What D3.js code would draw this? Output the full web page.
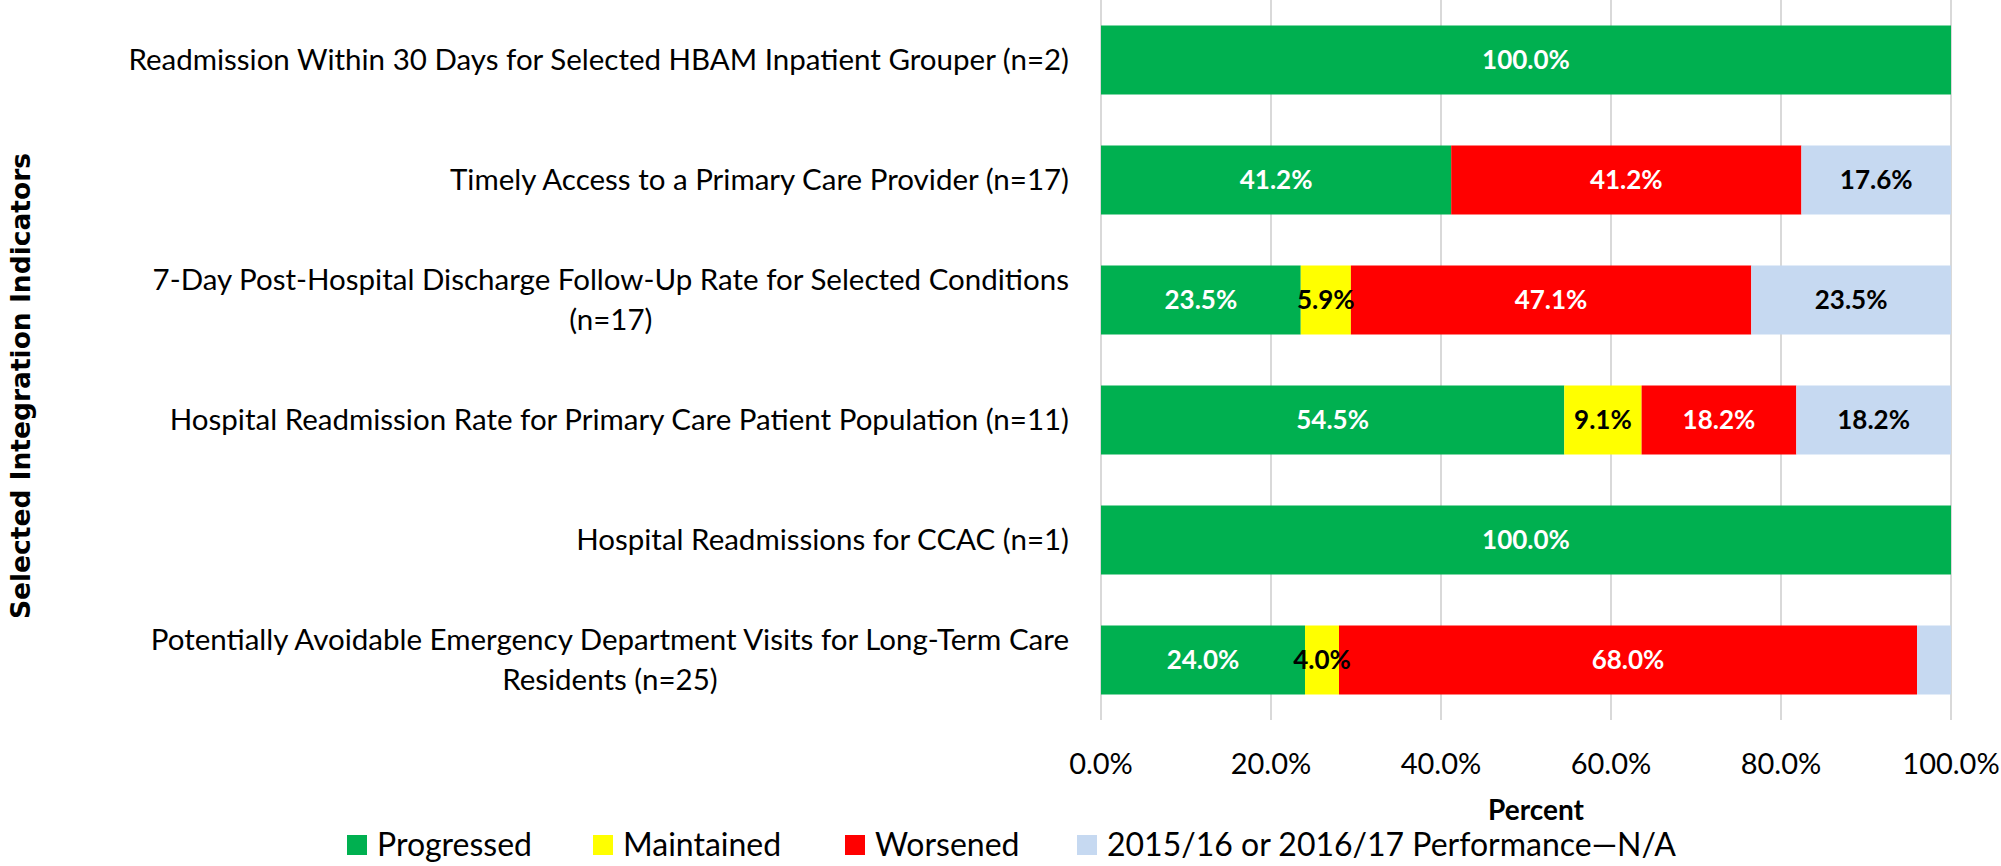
<!DOCTYPE html>
<html>
<head>
<meta charset="utf-8">
<script src="https://cdn.jsdelivr.net/npm/d3@7"></script>
<style>
  body { margin: 0; background: #fff; }
  text { font-family: Lato, "Liberation Sans Narrow", sans-serif; }
</style>
</head>
<body>
<div id="container"></div>
<script>
// dados do grafico
var categorias = [
    "Readmission Within 30 Days for Selected HBAM Inpatient Grouper (n=2)",
    "Timely Access to a Primary Care Provider (n=17)",
    "7-Day Post-Hospital Discharge Follow-Up Rate for Selected Conditions\n(n=17)",
    "Hospital Readmission Rate for Primary Care Patient Population (n=11)",
    "Hospital Readmissions for CCAC (n=1)",
    "Potentially Avoidable Emergency Department Visits for Long-Term Care\nResidents (n=25)"
];
var progredido = [100.0, 41.2, 23.5, 54.5, 100.0, 24.0];
var mantido    = [0, 0, 5.9, 9.1, 0, 4.0];
var piorado    = [0, 41.2, 47.1, 18.2, 0, 68.0];
var naoDisp    = [0, 17.6, 23.5, 18.2, 0, 4.0];
var series     = ["Progressed", "Maintained", "Worsened", "2015/16 or 2016/17 Performance\u2014N/A"];
var cores      = ["#00b050", "#ffff00", "#ff0000", "#c6d9f1"];
var coresTexto = ["#ffffff", "#000000", "#ffffff", "#000000"];
var ticksX     = [0, 20, 40, 60, 80, 100];
// rotulo escondido no original (linha, serie)
var rotulosOcultos = ["5-3"];

var w = 2001;
var h = 866;
var margem = {top: 0, left: 1101, right: 50, bottom: 146};

var svg = d3.select("div#container")
            .append("svg")
            .attr("width", w)
            .attr("height", h)
            .style("display", "block");

var linhas = categorias.map(function(c, i) {
    return {cat: c, s0: progredido[i], s1: mantido[i], s2: piorado[i], s3: naoDisp[i], idx: i};
});
var pilha = d3.stack().keys(["s0", "s1", "s2", "s3"])(linhas);

var x = d3.scaleLinear().domain([0, 100]).range([margem.left, w - margem.right]);
var y = d3.scaleBand().domain(d3.range(categorias.length))
          .range([margem.top, h - margem.bottom]).paddingInner(0.425).paddingOuter(0.2125);

// grade
svg.append("g").selectAll("line")
    .data(ticksX)
    .enter()
    .append("line")
    .attr("x1", function(d){ return x(d); })
    .attr("x2", function(d){ return x(d); })
    .attr("y1", margem.top)
    .attr("y2", h - margem.bottom)
    .attr("stroke", "#d9d9d9")
    .attr("stroke-width", 2);

// barras
var grupos = svg.append("g").selectAll("g")
    .data(pilha)
    .enter()
    .append("g")
    .attr("fill", function(d, i){ return cores[i]; });

grupos.selectAll("rect")
    .data(function(d){ return d; })
    .enter()
    .append("rect")
    .attr("x", function(d){ return x(d[0]); })
    .attr("width", function(d){ return x(d[1]) - x(d[0]); })
    .attr("y", function(d, i){ return y(i); })
    .attr("height", y.bandwidth());

// rotulos de dados
pilha.forEach(function(camada, s) {
    svg.append("g").selectAll("text")
        .data(camada.filter(function(d){
            return d[1] - d[0] > 0 && rotulosOcultos.indexOf(d.data.idx + "-" + s) < 0;
        }))
        .enter()
        .append("text")
        .attr("x", function(d){ return (x(d[0]) + x(d[1])) / 2; })
        .attr("y", function(d){ return y(d.data.idx) + y.bandwidth() / 2; })
        .attr("dy", "0.35em")
        .attr("text-anchor", "middle")
        .attr("font-size", 26)
        .attr("font-weight", "bold")
        .attr("fill", coresTexto[s])
        .text(function(d){ return (d[1] - d[0]).toFixed(1) + "%"; });
});

// eixo x
svg.append("g").selectAll("text")
    .data(ticksX)
    .enter()
    .append("text")
    .attr("x", function(d){ return x(d); })
    .attr("y", 764)
    .attr("dy", "0.35em")
    .attr("text-anchor", "middle")
    .attr("font-size", 29)
    .attr("fill", "#000")
    .text(function(d){ return d.toFixed(1) + "%"; });

svg.append("text")
    .attr("x", (x(0) + x(100)) / 2 + 10)
    .attr("y", 810)
    .attr("dy", "0.35em")
    .attr("text-anchor", "middle")
    .attr("font-size", 28)
    .attr("font-weight", "bold")
    .text("Percent");

// rotulos das categorias
categorias.forEach(function(c, i) {
    var partes = c.split("\n");
    var t = svg.append("text")
        .attr("font-size", 29.5)
        .attr("fill", "#000");
    var alturaLinha = 40;
    var y0 = y(i) + y.bandwidth() / 2 - (partes.length - 1) * alturaLinha / 2;
    partes.forEach(function(p, k) {
        t.append("tspan").attr("y", y0 + k * alturaLinha).attr("dy", "0.35em").text(p);
    });
    // centralizar as linhas entre si, bloco alinhado a direita
    var larguras = [];
    t.selectAll("tspan").each(function(){ larguras.push(this.getComputedTextLength()); });
    var maior = d3.max(larguras);
    var centro = margem.left - 32 - maior / 2;
    t.selectAll("tspan").attr("x", centro).attr("text-anchor", "middle");
});

// titulo eixo y
svg.append("text")
    .attr("transform", "translate(21,386) rotate(-90)")
    .attr("dy", "0.35em")
    .attr("text-anchor", "middle")
    .attr("font-size", 26.5)
    .attr("font-weight", "bold")
    .style("font-family", "'DejaVu Sans', sans-serif")
    .text("Selected Integration Indicators");

// legenda
var legendaX = [347, 593, 845, 1077];
var leg = svg.append("g").selectAll("g")
    .data(series)
    .enter()
    .append("g")
    .attr("transform", function(d, i){ return "translate(" + legendaX[i] + ",845)"; });
leg.append("rect")
    .attr("x", 0).attr("y", -10)
    .attr("width", 20).attr("height", 20)
    .attr("fill", function(d, i){ return cores[i]; });
leg.append("text")
    .attr("x", 30)
    .attr("dy", "0.35em")
    .attr("font-size", 32)
    .text(function(d){ return d; });
</script>
</body>
</html>
